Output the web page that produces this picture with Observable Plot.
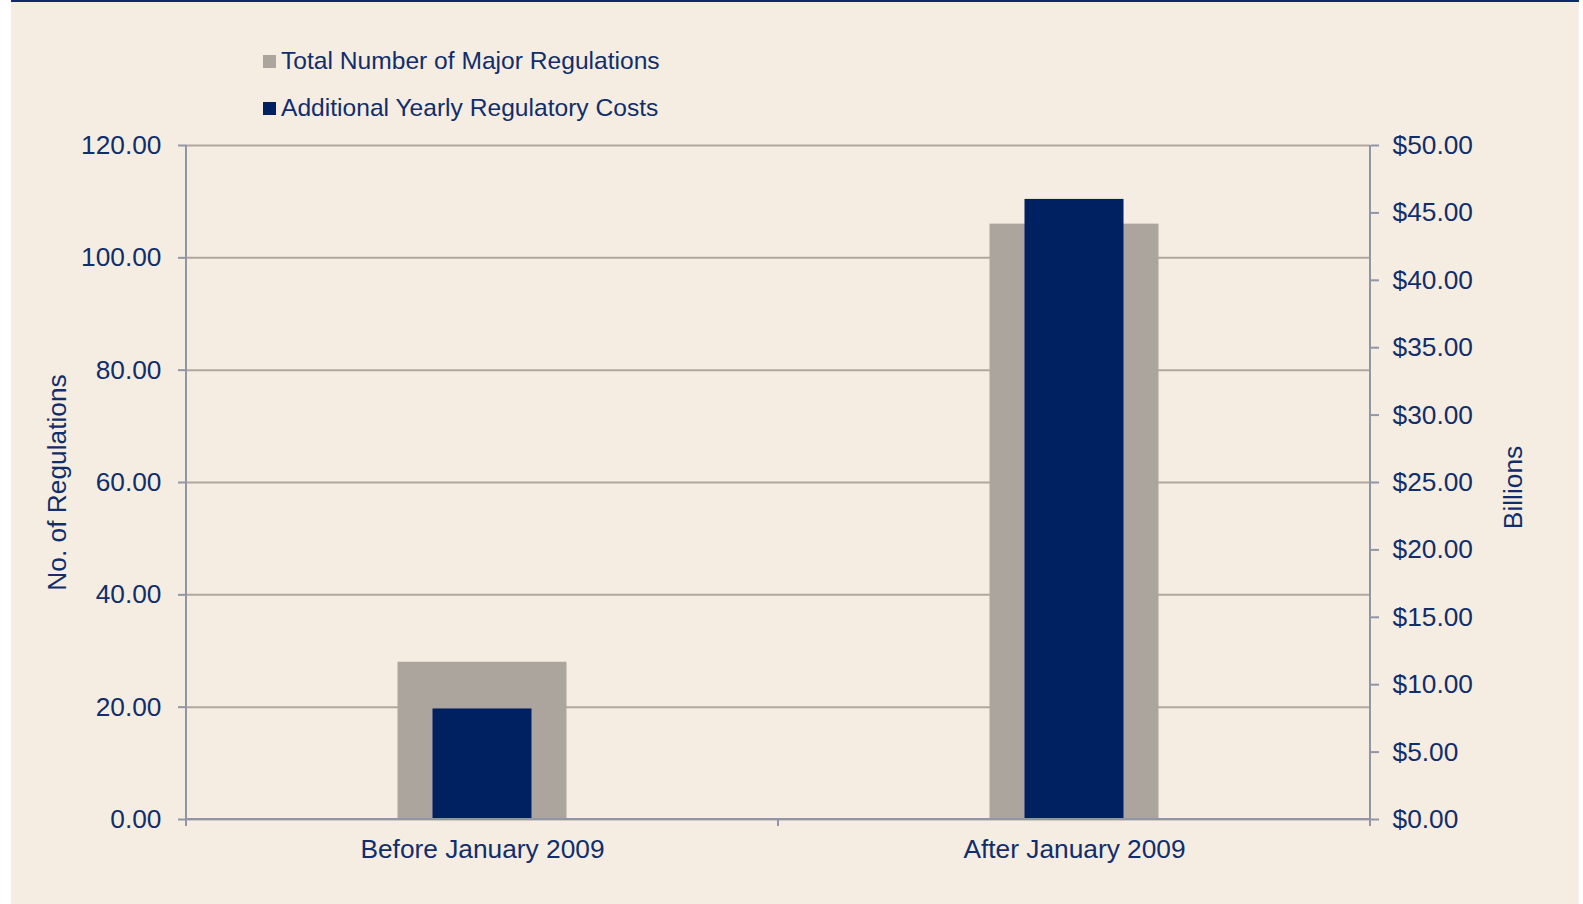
<!DOCTYPE html>
<html>
<head>
<meta charset="utf-8">
<script src="https://cdn.jsdelivr.net/npm/d3@7"></script>
<script src="https://cdn.jsdelivr.net/npm/@observablehq/plot@0.6"></script>
<style>
  html, body { margin: 0; padding: 0; background: #ffffff; }
  #panel {
    position: absolute; left: 11px; top: 0; width: 1568px; height: 904px;
    background: #f5ede1; border-top: 2px solid #0d2a6b; box-sizing: border-box;
    font-family: "Liberation Sans", Arial, sans-serif; color: #112d6b;
  }
  #legend { position: relative; height: 114px; }
  .item { position: absolute; left: 252px; display: flex; align-items: center; font-size: 24.6px; white-space: nowrap; }
  .sw { width: 13px; height: 13px; margin-right: 5px; }
  #chart { position: absolute; left: 0; top: 114px; }
</style>
</head>
<body>
<div id="panel">
  <div id="legend"></div>
  <div id="chart"></div>
</div>
<script>
// ---- data ----
const categories = ["Before January 2009", "After January 2009"];
const regulations = [28, 106];          // Total Number of Major Regulations (left axis)
const costs = [8.2, 46];                // Additional Yearly Regulatory Costs, $ billions (right axis)
const leftTicks = [0, 20, 40, 60, 80, 100, 120];
const rightTicks = [0, 5, 10, 15, 20, 25, 30, 35, 40, 45, 50];
const seriesNames = ["Total Number of Major Regulations", "Additional Yearly Regulatory Costs"];
const seriesColors = ["#aca59e", "#002161"];
const leftTitle = "No. of Regulations";
const rightTitle = "Billions";

const leftMax = 120, rightMax = 50;
const k = leftMax / rightMax; // maps billions onto left scale

const regData = categories.map((c, i) => ({cat: c, v: regulations[i]}));
const costData = categories.map((c, i) => ({cat: c, v: costs[i] * k}));

// legend
const legend = document.getElementById("legend");
seriesNames.forEach((name, i) => {
  const d = document.createElement("div");
  d.className = "item";
  d.style.top = (i === 0 ? 45 : 92) + "px";
  d.innerHTML = `<span class="sw" style="background:${seriesColors[i]}"></span><span>${name}</span>`;
  legend.appendChild(d);
});

const textColor = "#112d6b";
const axisColor = "#9095a8";
const gridColor = "#b0a89f";
const fs = 26.3;

// custom mark: axis lines + category boundary ticks
function axisLines(index, scales, values, dim) {
  const ns = "http://www.w3.org/2000/svg";
  const g = document.createElementNS(ns, "g");
  const x0 = dim.marginLeft, x1 = dim.width - dim.marginRight;
  const y0 = dim.marginTop, y1 = dim.height - dim.marginBottom;
  const line = (ax, ay, bx, by) => {
    const l = document.createElementNS(ns, "line");
    l.setAttribute("x1", ax); l.setAttribute("y1", ay);
    l.setAttribute("x2", bx); l.setAttribute("y2", by);
    l.setAttribute("stroke", axisColor); l.setAttribute("stroke-width", 2);
    g.appendChild(l);
  };
  line(x0, y1, x1, y1);
  line(x0, y0, x0, y1 + 7);
  line(x1, y0, x1, y1 + 7);
  categories.forEach((c, i) => { if (i > 0) { const xx = scales.x(c); line(xx, y1, xx, y1 + 7); } });
  return g;
}

const W = 1568, H = 790;
const plot = Plot.plot({
  width: W, height: H,
  marginLeft: 175, marginRight: 209, marginTop: 29, marginBottom: 87,
  style: { background: "transparent", fontFamily: "Liberation Sans, Arial, sans-serif", color: textColor, overflow: "visible" },
  x: { type: "band", domain: categories, padding: 0, axis: null },
  y: { domain: [0, leftMax], axis: null },
  marks: [
    Plot.gridY(leftTicks, { stroke: gridColor, strokeOpacity: 1, strokeWidth: 2 }),
    Plot.barY(regData, { x: "cat", y: "v", fill: seriesColors[0], insetLeft: 211.5, insetRight: 211.5 }),
    Plot.barY(costData, { x: "cat", y: "v", fill: seriesColors[1], insetLeft: 246.5, insetRight: 246.5 }),
    axisLines,
    Plot.axisY(leftTicks, { anchor: "left", tickSize: 8, tickPadding: 17, stroke: axisColor, strokeWidth: 2, strokeOpacity: 1, fill: textColor, fontSize: fs, tickFormat: d => d.toFixed(2), label: null }),
    Plot.axisY(rightTicks.map(v => v * k), { anchor: "right", tickSize: 8, tickPadding: 14, stroke: axisColor, strokeWidth: 2, strokeOpacity: 1, fill: textColor, fontSize: fs, tickFormat: d => "$" + (d / k).toFixed(2), label: null }),
    Plot.axisX({ anchor: "bottom", tickSize: 0, tickPadding: 20, fill: textColor, fontSize: fs, label: null }),
    Plot.text([leftTitle], { frameAnchor: "left", textAnchor: "middle", dx: -129, rotate: -90, text: d => d, fill: textColor, fontSize: fs }),
    Plot.text([rightTitle], { frameAnchor: "right", textAnchor: "middle", dx: 143, dy: 5, rotate: -90, text: d => d, fill: textColor, fontSize: fs })
  ]
});
document.getElementById("chart").appendChild(plot);
</script>
</body>
</html>
